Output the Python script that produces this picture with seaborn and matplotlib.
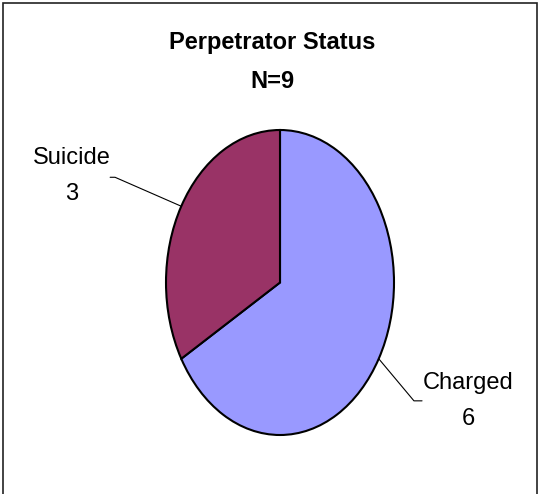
import numpy as np
import seaborn as sns
import matplotlib.pyplot as plt
from matplotlib.patches import Rectangle

labels = ['Charged', 'Suicide']
counts = [6, 3]
colors = ['#9999FF', '#993366']
title = 'Perpetrator Status'
subtitle = 'N=' + str(sum(counts))

sns.set_theme(style='white')
plt.rcParams['font.family'] = ['Liberation Sans', 'DejaVu Sans']
plt.rcParams['text.color'] = 'black'

W, H = 539, 494
fig = plt.figure(figsize=(W / 100, H / 100), dpi=100)

# pie box in pixels (the original is stretched vertically)
left, right, top, bottom = 166, 394, 130, 435
ax = fig.add_axes([left / W, 1 - bottom / H, (right - left) / W, (bottom - top) / H])
wedges, _ = ax.pie(counts, colors=colors, startangle=90, counterclock=False,
                   wedgeprops=dict(edgecolor='black', linewidth=1.5))
ax.set_aspect('auto')
ax.set_xlim(-1, 1)
ax.set_ylim(-1, 1)
ax.axis('off')

# leader lines and labels: (elbow x, elbow y, end x, text x, text y) in axes data units
layout = {
    'Charged': (1.175, -0.776, 1.246, 1.65, -0.776),
    'Suicide': (-1.447, 0.69, -1.49, -1.83, 0.697),
}
for w, lab, n in zip(wedges, labels, counts):
    ang = np.deg2rad((w.theta1 + w.theta2) / 2)
    x0, y0 = np.cos(ang), np.sin(ang)
    ex, ey, hx, tx, ty = layout[lab]
    ax.plot([x0, ex, hx], [y0, ey, ey], color='black', lw=0.8, clip_on=False)
    ax.text(tx, ty, f'{lab}\n{n}', ha='center', va='center', fontsize=17,
            linespacing=1.8, clip_on=False)

fig.text(272 / W, 1 - 42 / H, title, ha='center', va='center', fontsize=17, fontweight='bold')
fig.text(272 / W, 1 - 82 / H, subtitle, ha='center', va='center', fontsize=17, fontweight='bold')

# chart frame (bottom edge is cut off in the original)
fig.patches.append(Rectangle((3 / W, -0.05), 534 / W, 1.05 - 3 / H, transform=fig.transFigure,
                             fill=False, edgecolor='#222222', linewidth=1.2))

fig.savefig('out.png', dpi=100)
